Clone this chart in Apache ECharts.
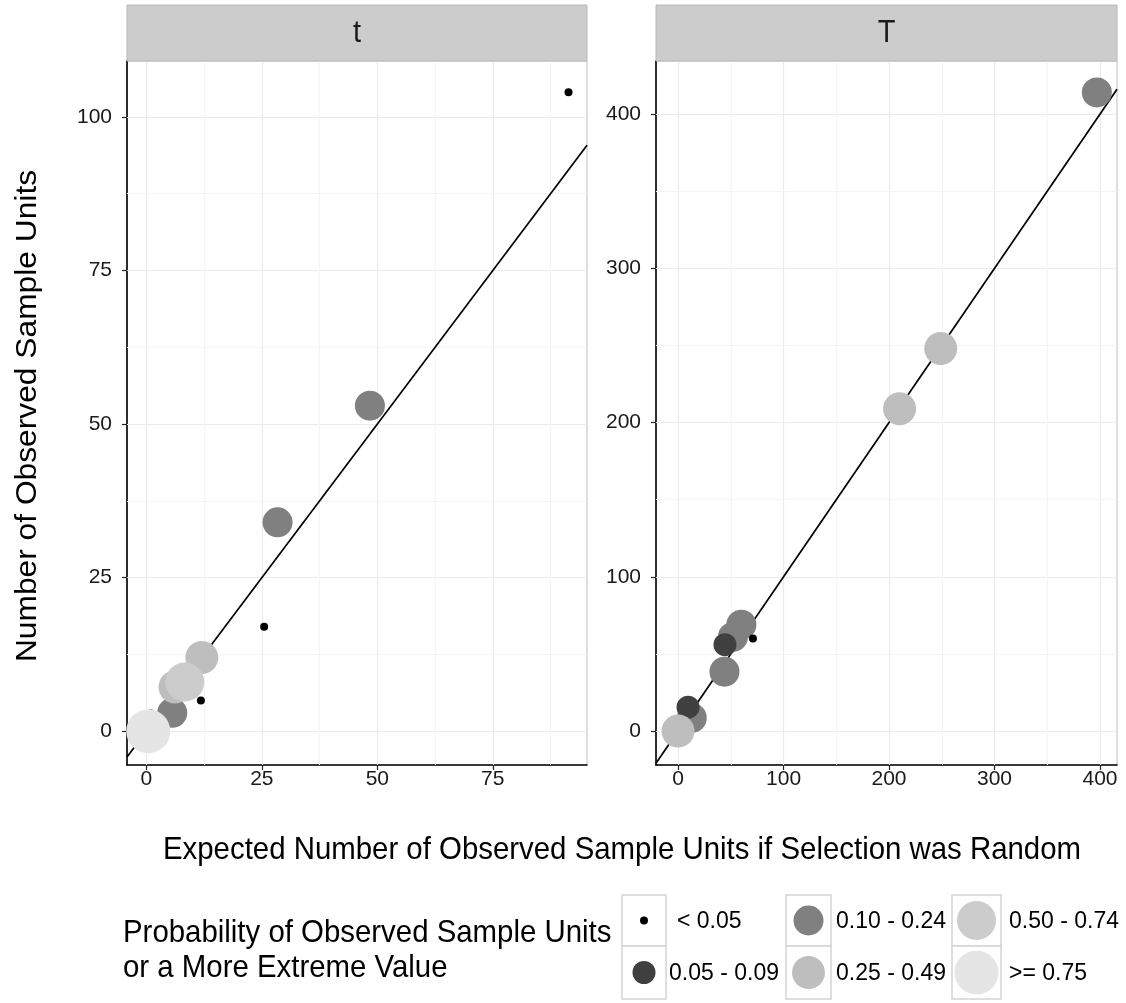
<!DOCTYPE html>
<html><head><meta charset="utf-8">
<script src="https://cdn.jsdelivr.net/npm/echarts@6/dist/echarts.min.js"></script>
<style>html,body{margin:0;padding:0;background:#fff}#c{width:1126px;height:1003px}</style>
</head><body><div id="c"></div>
<script>
// ---------- DATA ----------
const panelNames = ['t', 'T'];
const categories = ['< 0.05', '0.05 - 0.09', '0.10 - 0.24', '0.25 - 0.49', '0.50 - 0.74', '>= 0.75'];

// panel "t": [expected, observed]
const t_lt005   = [[91.4, 104], [25.5, 17], [11.8, 5], [1.0, 2.9]];
const t_005_009 = [];
const t_010_024 = [[48.4, 53], [28.4, 34], [5.6, 3]];
const t_025_049 = [[12, 12], [6.2, 7.2]];
const t_050_074 = [[8.3, 8]];
const t_ge075   = [[0.4, 0]];

// panel "T": [expected, observed]
const T_lt005   = [[71, 60]];
const T_005_009 = [[44.5, 56], [9.5, 15.5]];
const T_010_024 = [[397, 414], [60, 69], [52, 61], [44, 38.5], [13, 8.5]];
const T_025_049 = [[249, 248], [210, 209], [0, 0]];
const T_050_074 = [];
const T_ge075   = [];

// axis ticks
const tXTicks = [0, 25, 50, 75];
const tYTicks = [0, 25, 50, 75, 100];
const TXTicks = [0, 100, 200, 300, 400];
const TYTicks = [0, 100, 200, 300, 400];
const tXMinor = [12.5, 37.5, 62.5, 87.5];
const tYMinor = [12.5, 37.5, 62.5, 87.5];
const TXMinor = [50, 150, 250, 350];
const TYMinor = [50, 150, 250, 350];

// axis ranges (with padding)
const tXRange = [-4.2, 95.4];
const tYRange = [-5.5, 109.1];
const TXRange = [-20.9, 416.1];
const TYRange = [-22.0, 434.4];

// ---------- STYLE ----------
const catColors = ['#000000', '#404040', '#808080', '#bebebe', '#cccccc', '#e5e5e5'];
const catSizes  = [8, 23, 30, 33, 39, 44];
const FONT = 'Liberation Sans, Arial, sans-serif';
const SY = 1.08; // vertical stretch of the reference text

const panelData = [
  [t_lt005, t_005_009, t_010_024, t_025_049, t_050_074, t_ge075],
  [T_lt005, T_005_009, T_010_024, T_025_049, T_050_074, T_ge075]
];
// draw order per panel (later on top)
const drawOrder = [[0, 1, 2, 3, 4, 5], [2, 1, 3, 0, 4, 5]];
const ranges = [[tXRange, tYRange], [TXRange, TYRange]];
const ticks = [[tXTicks, tYTicks], [TXTicks, TYTicks]];
const minors = [[tXMinor, tYMinor], [TXMinor, TYMinor]];

const grids = [
  {left: 127, top: 61, width: 460, height: 704},
  {left: 656, top: 61, width: 461, height: 704}
];

const xAxes = [], yAxes = [], series = [];
grids.forEach((g, i) => {
  xAxes.push({
    type: 'value', gridIndex: i, min: ranges[i][0][0], max: ranges[i][0][1],
    axisLine: {show: true, onZero: false, lineStyle: {color: '#000', width: 1.6}},
    axisTick: {show: true, length: 5, customValues: ticks[i][0], lineStyle: {color: '#222', width: 1.2}},
    axisLabel: {customValues: ticks[i][0], fontSize: 21, color: '#1a1a1a', margin: 4, fontFamily: FONT},
    splitLine: {show: false}
  });
  yAxes.push({
    type: 'value', gridIndex: i, min: ranges[i][1][0], max: ranges[i][1][1],
    axisLine: {show: true, onZero: false, lineStyle: {color: '#000', width: 1.6}},
    axisTick: {show: true, length: 5, customValues: ticks[i][1], lineStyle: {color: '#222', width: 1.2}},
    axisLabel: {customValues: ticks[i][1], fontSize: 21, color: '#1a1a1a', margin: 15, fontFamily: FONT},
    splitLine: {show: false}
  });
  // gridlines via markLine
  const ml = [];
  ticks[i][0].forEach(v => ml.push({xAxis: v, lineStyle: {color: '#ebebeb', width: 1.2}}));
  ticks[i][1].forEach(v => ml.push({yAxis: v, lineStyle: {color: '#ebebeb', width: 1.2}}));
  minors[i][0].forEach(v => ml.push({xAxis: v, lineStyle: {color: '#f4f4f4', width: 1}}));
  minors[i][1].forEach(v => ml.push({yAxis: v, lineStyle: {color: '#f4f4f4', width: 1}}));
  series.push({
    type: 'line', xAxisIndex: i, yAxisIndex: i, data: [], z: 1, silent: true,
    markLine: {silent: true, z: 1, symbol: ['none', 'none'], label: {show: false},
      lineStyle: {type: 'solid'}, data: ml, animation: false}
  });
  // 1:1 reference line
  const lo = ranges[i][0][0], hi = ranges[i][0][1];
  series.push({
    type: 'line', xAxisIndex: i, yAxisIndex: i, z: 2, silent: true,
    data: [[lo, lo], [hi, hi]], showSymbol: false, symbol: 'none',
    lineStyle: {color: '#000', width: 1.7}, clip: true
  });
  drawOrder[i].forEach((c, k) => {
    series.push({
      type: 'scatter', name: categories[c], xAxisIndex: i, yAxisIndex: i,
      z: 3 + k, data: panelData[i][c], symbol: 'circle', symbolSize: catSizes[c],
      itemStyle: {color: catColors[c], opacity: 1}
    });
  });
});

// ---------- graphics: strips, titles, legend ----------
const graphics = [];
grids.forEach((g, i) => {
  graphics.push({type: 'rect', shape: {x: g.left, y: 5, width: g.width, height: 56},
    style: {fill: '#cccccc', stroke: '#b8b8b8', lineWidth: 1}, z: 10});
  graphics.push({type: 'text', x: g.left + g.width / 2, y: 33, scaleY: SY,
    style: {text: panelNames[i], fontSize: 29, fontFamily: FONT, fill: '#1a1a1a',
      textAlign: 'center', textVerticalAlign: 'middle'}, z: 11});
});
graphics.push({type: 'text', x: 622, y: 850, scaleY: SY,
  style: {text: 'Expected Number of Observed Sample Units if Selection was Random',
    fontSize: 29.4, fontFamily: FONT, fill: '#000', textAlign: 'center', textVerticalAlign: 'middle'}});
graphics.push({type: 'text', x: 28, y: 416, rotation: Math.PI / 2, scaleX: SY,
  style: {text: 'Number of Observed Sample Units',
    fontSize: 29.4, fontFamily: FONT, fill: '#000', textAlign: 'center', textVerticalAlign: 'middle'}});
graphics.push({type: 'text', x: 123, y: 933, scaleY: SY,
  style: {text: 'Probability of Observed Sample Units', fontSize: 29.4, fontFamily: FONT,
    fill: '#000', textAlign: 'left', textVerticalAlign: 'middle'}});
graphics.push({type: 'text', x: 123, y: 968, scaleY: SY,
  style: {text: 'or a More Extreme Value', fontSize: 29.4, fontFamily: FONT,
    fill: '#000', textAlign: 'left', textVerticalAlign: 'middle'}});

// legend keys: 3 columns x 2 rows (column-major)
const legCols = [{x: 622, w: 44, lx: 677}, {x: 786, w: 45, lx: 836}, {x: 952, w: 49, lx: 1009}];
const legRows = [{y: 895, h: 51}, {y: 946, h: 53}];
categories.forEach((cat, c) => {
  const col = legCols[Math.floor(c / 2)], row = legRows[c % 2];
  graphics.push({type: 'rect', shape: {x: col.x, y: row.y, width: col.w, height: row.h},
    style: {fill: '#fff', stroke: '#d4d4d4', lineWidth: 1.5}});
  graphics.push({type: 'circle', shape: {cx: col.x + col.w / 2, cy: row.y + row.h / 2, r: catSizes[c] / 2},
    style: {fill: catColors[c]}});
  const lx = (c === 1) ? 669 : col.lx;
  graphics.push({type: 'text', x: lx, y: row.y + row.h / 2 + 1, scaleY: SY,
    style: {text: cat, fontSize: 23, fontFamily: FONT, fill: '#000', textAlign: 'left', textVerticalAlign: 'middle'}});
});

const chart = echarts.init(document.getElementById('c'), null, {renderer: 'canvas'});
chart.setOption({
  animation: false,
  backgroundColor: '#fff',
  grid: grids.map(g => Object.assign({show: true, borderColor: '#bdbdbd', borderWidth: 1, backgroundColor: '#fff'}, g)),
  xAxis: xAxes,
  yAxis: yAxes,
  series: series,
  graphic: graphics
});
</script>
</body></html>
